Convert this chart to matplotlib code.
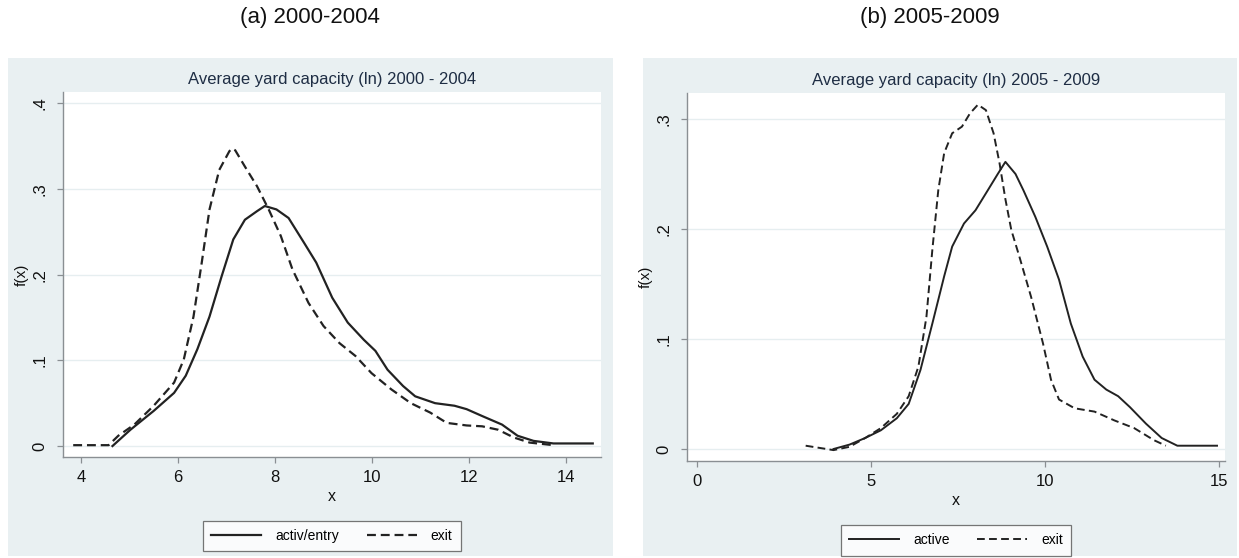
import matplotlib
matplotlib.use("Agg")
import matplotlib.pyplot as plt
from matplotlib.patches import Rectangle

plt.rcParams['font.family'] = ['Liberation Sans Narrow', 'Liberation Sans', 'DejaVu Sans']

# kernel density estimates, 2000-2004
x_active_a = [4.65, 5.02, 5.5, 5.92, 6.16, 6.4, 6.65, 6.9, 7.14, 7.38, 7.63, 7.79,
              8.03, 8.28, 8.6, 8.85, 9.18, 9.5, 9.83, 10.07, 10.32, 10.64, 10.89,
              11.3, 11.7, 11.95, 12.27, 12.68, 13.0, 13.33, 13.74, 14.55]
y_active_a = [0.0, 0.019, 0.041, 0.062, 0.082, 0.113, 0.151, 0.198, 0.241, 0.264,
              0.274, 0.28, 0.276, 0.266, 0.237, 0.214, 0.173, 0.144, 0.124, 0.111,
              0.089, 0.07, 0.058, 0.05, 0.047, 0.043, 0.035, 0.025, 0.012, 0.006,
              0.003, 0.003]
x_exit_a = [3.84, 4.57, 4.77, 5.1, 5.5, 5.92, 6.12, 6.32, 6.49, 6.65, 6.85, 7.06,
            7.12, 7.18, 7.38, 7.63, 7.87, 8.12, 8.36, 8.69, 9.0, 9.33, 9.66, 9.99,
            10.4, 10.8, 11.2, 11.54, 11.95, 12.27, 12.6, 12.92, 13.25, 13.74]
y_exit_a = [0.001, 0.001, 0.012, 0.025, 0.047, 0.074, 0.101, 0.151, 0.214, 0.276,
            0.322, 0.344, 0.347, 0.345, 0.326, 0.303, 0.276, 0.245, 0.206, 0.167,
            0.14, 0.12, 0.105, 0.085, 0.066, 0.05, 0.039, 0.027, 0.024, 0.023,
            0.019, 0.01, 0.004, 0.001]

# kernel density estimates, 2005-2009
x_active_b = [3.92, 4.38, 4.83, 5.28, 5.74, 6.08, 6.42, 6.76, 7.1, 7.33, 7.67, 8.0,
              8.35, 8.64, 8.86, 9.15, 9.38, 9.72, 10.06, 10.4, 10.74, 11.08, 11.42,
              11.76, 12.1, 12.44, 12.9, 13.35, 13.8, 14.94]
y_active_b = [0.0, 0.004, 0.01, 0.017, 0.028, 0.041, 0.072, 0.114, 0.157, 0.184,
              0.205, 0.217, 0.235, 0.25, 0.261, 0.25, 0.235, 0.211, 0.184, 0.154,
              0.114, 0.084, 0.063, 0.054, 0.048, 0.038, 0.023, 0.01, 0.003, 0.003]
x_exit_b = [3.12, 3.92, 4.38, 4.83, 5.28, 5.74, 6.08, 6.36, 6.59, 6.76, 6.93, 7.1,
            7.33, 7.61, 7.84, 8.07, 8.3, 8.52, 8.69, 8.86, 9.03, 9.26, 9.6, 9.94,
            10.17, 10.4, 10.85, 11.42, 11.99, 12.56, 13.13, 13.47]
y_exit_b = [0.003, -0.001, 0.002, 0.01, 0.019, 0.032, 0.048, 0.075, 0.12, 0.181,
            0.235, 0.269, 0.287, 0.293, 0.305, 0.313, 0.308, 0.287, 0.26, 0.227,
            0.199, 0.175, 0.138, 0.096, 0.063, 0.045, 0.037, 0.034, 0.026, 0.019,
            0.008, 0.003]

xticks_a = [4, 6, 8, 10, 12, 14]
xticks_b = [0, 5, 10, 15]
yticks_a = [0, 0.1, 0.2, 0.3, 0.4]
yticks_b = [0, 0.1, 0.2, 0.3]
ylabels_a = ['0', '.1', '.2', '.3', '.4']
ylabels_b = ['0', '.1', '.2', '.3']

W, H = 1239, 558
BG = '#e9f0f2'
AXC = '#8a8f93'
INK = '#222222'

fig = plt.figure(figsize=(W / 100, H / 100), dpi=100)
fig.patch.set_facecolor('white')


def fx(px):
    return px / W


def fy(py):
    return 1 - py / H


# light graph regions behind each panel
for x0, x1 in [(8, 613), (643, 1237)]:
    fig.patches.append(Rectangle((fx(x0), fy(556)), fx(x1 - x0), (556 - 58) / H,
                                 transform=fig.transFigure, facecolor=BG,
                                 edgecolor='none', zorder=-1))

panels = [
    dict(rect=(63, 92, 601, 457), xlim=(3.63, 14.72), ylim=(-0.0128, 0.413),
         xticks=xticks_a, yticks=yticks_a, ylabels=ylabels_a,
         active=(x_active_a, y_active_a), exit=(x_exit_a, y_exit_a),
         lab='activ/entry', head='(a) 2000-2004', headx=310,
         title='Average yard capacity (ln) 2000 - 2004', lw=1.6),
    dict(rect=(687, 93, 1225, 461), xlim=(-0.29, 15.17), ylim=(-0.0109, 0.3236),
         xticks=xticks_b, yticks=yticks_b, ylabels=ylabels_b,
         active=(x_active_b, y_active_b), exit=(x_exit_b, y_exit_b),
         lab='active', head='(b) 2005-2009', headx=930,
         title='Average yard capacity (ln) 2005 - 2009', lw=1.4),
]

for p in panels:
    l, t, r, b = p['rect']
    ax = fig.add_axes([fx(l), fy(b), fx(r - l), (b - t) / H])
    ax.set_zorder(2)
    ax.set_facecolor('white')
    ax.set_xlim(*p['xlim'])
    ax.set_ylim(*p['ylim'])

    for yt in p['yticks']:
        ax.axhline(yt, color='#e6eef0', lw=1.0, zorder=0)

    ax.plot(*p['active'], color=INK, lw=p['lw'], solid_joinstyle='round',
            label=p['lab'], zorder=3)
    ax.plot(*p['exit'], color=INK, lw=p['lw'], linestyle=(0, (4, 2.2)),
            label='exit', zorder=3)

    for s in ['top', 'right']:
        ax.spines[s].set_visible(False)
    for s in ['left', 'bottom']:
        ax.spines[s].set_color(AXC)
        ax.spines[s].set_linewidth(1.0)

    ax.set_xticks(p['xticks'])
    ax.set_xticklabels([str(v) for v in p['xticks']])
    ax.set_yticks(p['yticks'])
    ax.set_yticklabels(p['ylabels'], rotation=90, va='center')
    ax.tick_params(axis='both', colors=AXC, labelcolor='#111111', length=4,
                   width=0.9, labelsize=12)
    ax.tick_params(axis='x', pad=5)
    ax.tick_params(axis='y', pad=7)

    ax.set_xlabel('x', fontsize=11.5, color='#111111', labelpad=3)
    ax.set_ylabel('f(x)', fontsize=11, color='#111111', labelpad=3)
    ax.set_title(p['title'], fontsize=12, color='#1e2d44', pad=6)

    leg = ax.legend(loc='upper center', bbox_to_anchor=(0.5, -0.155), ncol=2,
                    frameon=True, fancybox=False, fontsize=10,
                    handlelength=3.6, columnspacing=2.0, borderpad=0.6,
                    handletextpad=1.0)
    leg.get_frame().set_edgecolor('#555555')
    leg.get_frame().set_linewidth(0.9)

    fig.text(fx(p['headx']), fy(18), p['head'], ha='center', va='center',
             fontsize=16, color='#111111')

fig.savefig('out.png', dpi=100, facecolor='white')
